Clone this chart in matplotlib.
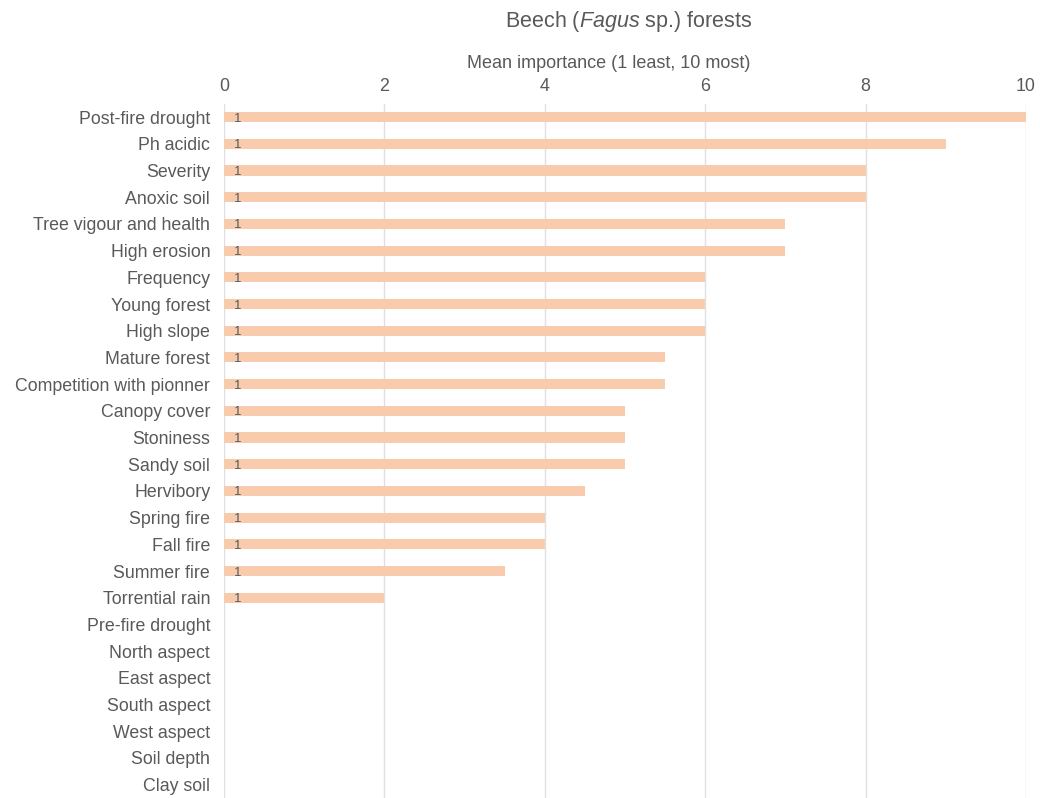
import matplotlib
matplotlib.use("Agg")
import matplotlib.pyplot as plt

plt.rcParams['font.family'] = ['Liberation Sans', 'DejaVu Sans']
plt.rcParams['mathtext.fontset'] = 'custom'
plt.rcParams['mathtext.rm'] = 'Liberation Sans'
plt.rcParams['mathtext.it'] = 'Liberation Sans:italic'

# factors, top to bottom
factors = ["Post-fire drought", "Ph acidic", "Severity", "Anoxic soil",
           "Tree vigour and health", "High erosion", "Frequency", "Young forest",
           "High slope", "Mature forest", "Competition with pionner", "Canopy cover",
           "Stoniness", "Sandy soil", "Hervibory", "Spring fire", "Fall fire",
           "Summer fire", "Torrential rain", "Pre-fire drought", "North aspect",
           "East aspect", "South aspect", "West aspect", "Soil depth", "Clay soil"]
importance = [10, 9, 8, 8, 7, 7, 6, 6, 6, 5.5, 5.5, 5, 5, 5, 4.5, 4, 4, 3.5, 2,
              0, 0, 0, 0, 0, 0, 0]
labels = ["1"] * 19 + [""] * 7

text_col = "#595959"
bar_col = "#F8CBAD"

fig = plt.figure(figsize=(10.4, 7.98), dpi=100)
ax = fig.add_axes([0.2154, 0.0, 0.7711, 0.870])

ypos = list(range(len(factors)))
ax.barh(ypos, importance, height=0.38, color=bar_col, zorder=2)
for y, lab in zip(ypos, labels):
    if lab:
        ax.text(0.12, y, lab, va="center_baseline", ha="left", fontsize=9.5,
                color=text_col, zorder=3)

ax.set_ylim(len(factors) - 0.5, -0.5)
ax.set_xlim(0, 10)
ax.set_yticks(ypos)
ax.set_yticklabels(factors)
ax.set_xticks([0, 2, 4, 6, 8, 10])
ax.xaxis.tick_top()
ax.tick_params(axis="both", length=0, labelsize=12.8, colors=text_col)
ax.tick_params(axis="y", pad=10)
ax.tick_params(axis="x", pad=6)
ax.grid(axis="x", color="#E0E0E0", linewidth=1, zorder=0)
for s in ax.spines.values():
    s.set_visible(False)

fig.text(0.585, 1 - 63 / 798, "Mean importance (1 least, 10 most)", ha="center",
         va="center", fontsize=13, color=text_col)
fig.text(0.605, 1 - 21 / 798, "Beech ($\\it{Fagus}$ sp.) forests", ha="center", va="center",
         fontsize=15.5, color=text_col)

fig.savefig("out.png", dpi=100)
